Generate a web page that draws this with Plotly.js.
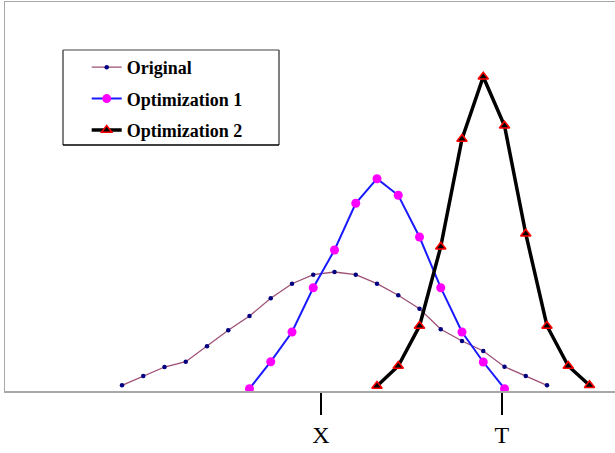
<!DOCTYPE html>
<html>
<head>
<meta charset="utf-8">
<script src="https://cdn.plot.ly/plotly-3.0.1.min.js"></script>
<style>html,body{margin:0;padding:0;background:#fff;}</style>
</head>
<body>
<div id="chart" style="width:615px;height:453px;"></div>
<script>
// positions along the horizontal axis (sample index)
var originalX = [0,1,2,3,4,5,6,7,8,9,10,11,12,13,14,15,16,17,18,19,20];
var originalY = [3.4,12.7,21.7,27,42.4,58.4,72.7,90.4,105,114,116.7,114,105,93.4,80,59.4,47.7,37.7,22,12.7,3.4];
var opt1X = [6,7,8,9,10,11,12,13,14,15,16,17,18];
var opt1Y = [0,27,56.7,101,138.7,185.4,210,193.4,151.7,101,56.7,26.7,0];
var opt2X = [12,13,14,15,16,17,18,19,20,21,22];
var opt2Y = [2.7,22.7,62.7,142,249.7,312,263,155,62.7,22.7,3.4];
var seriesNames = ['Original','Optimization 1','Optimization 2'];
var tickPositions = [9.36, 17.88];
var tickLabels = ['X','T'];

var traces = [
  {x: originalX, y: originalY, name: seriesNames[0], mode: 'lines+markers', legendgroup: 'a',
   line: {color: '#9e4f75', width: 1.3},
   marker: {color: '#000080', size: 4.5, symbol: 'circle'}},
  {x: opt1X, y: opt1Y, name: seriesNames[1], mode: 'lines+markers', legendgroup: 'b',
   line: {color: '#1a1aff', width: 2},
   marker: {color: '#ff00ff', size: 9, symbol: 'circle'}},
  {x: opt2X, y: opt2Y, name: seriesNames[2], mode: 'lines+markers', legendgroup: 'c',
   line: {color: '#000000', width: 3.5},
   marker: {color: '#000000', size: 9, symbol: 'triangle-up', line: {color: '#ff0000', width: 1.5}}}
];

var boxL = (63-5)/610, boxR = (279-5)/610, boxT = (391-50)/389, boxB = (391-145)/389;

var layout = {
  width: 615, height: 453,
  margin: {l: 5, r: 0, t: 2, b: 62},
  paper_bgcolor: '#ffffff', plot_bgcolor: '#ffffff',
  font: {family: 'Liberation Serif, Times New Roman, serif', color: '#000'},
  showlegend: true,
  legend: {
    x: (86.7-5)/610, xanchor: 'left', xref: 'paper',
    y: (391-49)/389, yanchor: 'top', yref: 'paper',
    bgcolor: 'rgba(0,0,0,0)', borderwidth: 0,
    traceorder: 'grouped', tracegroupgap: 5,
    font: {family: 'Liberation Serif, Times New Roman, serif', size: 18, color: '#000', weight: 'bold'}
  },
  xaxis: {
    range: [-5.506, 23.20], showgrid: false, zeroline: false,
    showline: true, linecolor: '#a8a8a8', linewidth: 1.5, mirror: true,
    tickmode: 'array', tickvals: tickPositions, ticktext: tickLabels,
    ticks: 'outside', ticklen: 22, tickwidth: 2, tickcolor: '#000',
    ticklabelstandoff: 0,
    tickfont: {family: 'Liberation Serif, Times New Roman, serif', size: 24, color: '#000'}
  },
  yaxis: {
    range: [-2.3, 386.7], showgrid: false, zeroline: false,
    showline: true, linecolor: '#a8a8a8', linewidth: 1.5, mirror: false,
    showticklabels: false, ticks: ''
  },
  shapes: [
    {type: 'rect', xref: 'paper', yref: 'paper', x0: boxL, x1: boxR, y0: boxB, y1: boxT,
     fillcolor: '#ffffff', line: {width: 0}, layer: 'below'},
    {type: 'line', xref: 'paper', yref: 'paper', x0: boxL, x1: boxR, y0: boxT, y1: boxT, line: {color: '#808080', width: 1.5}},
    {type: 'line', xref: 'paper', yref: 'paper', x0: boxL, x1: boxL, y0: boxB, y1: boxT, line: {color: '#555555', width: 1.5}},
    {type: 'line', xref: 'paper', yref: 'paper', x0: boxR, x1: boxR, y0: boxB, y1: boxT, line: {color: '#555555', width: 1.5}},
    {type: 'line', xref: 'paper', yref: 'paper', x0: boxL, x1: boxR, y0: boxB, y1: boxB, line: {color: '#000000', width: 1.5}}
  ]
};

Plotly.newPlot('chart', traces, layout, {displayModeBar: false, staticPlot: true});
</script>
</body>
</html>
